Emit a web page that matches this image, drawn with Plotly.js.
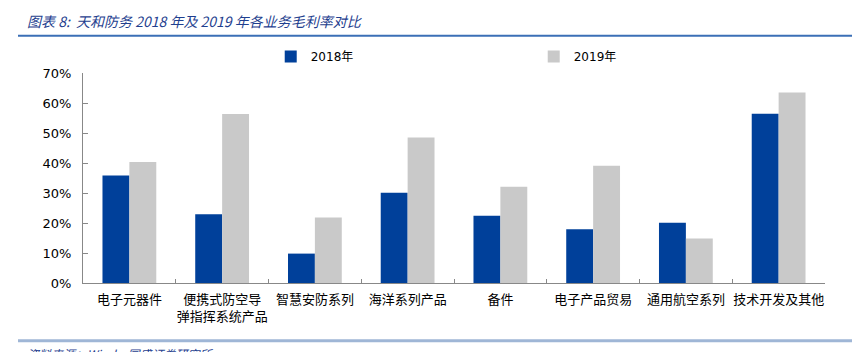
<!DOCTYPE html>
<html>
<head>
<meta charset="utf-8">
<script src="https://cdn.plot.ly/plotly-3.0.1.min.js"></script>
<style>html,body{margin:0;padding:0;background:#fff;}#chart{width:852px;height:352px;}</style>
</head>
<body>
<div id="chart"></div>
<script>
const categories = ["电子元器件", "便携式防空导<br>弹指挥系统产品", "智慧安防系列", "海洋系列产品", "备件", "电子产品贸易", "通用航空系列", "技术开发及其他"];
const series2018 = [0.358, 0.229, 0.098, 0.301, 0.224, 0.179, 0.201, 0.564];
const series2019 = [0.403, 0.563, 0.218, 0.485, 0.321, 0.391, 0.148, 0.635];
const seriesNames = ["2018年", "2019年"];
const titleText = "图表 8:  天和防务 2018 年及 2019 年各业务毛利率对比";
const sourceText = "资料来源：Wind，国盛证券研究所";

const cjk = '"Noto Sans CJK SC", sans-serif';
const traces = [
  {type: 'bar', name: seriesNames[0], x: categories, y: series2018, marker: {color: '#00409A'}},
  {type: 'bar', name: seriesNames[1], x: categories, y: series2019, marker: {color: '#C9C9C9'}}
];
const layout = {
  width: 852, height: 352,
  margin: {l: 83, r: 27, t: 73, b: 69},
  paper_bgcolor: '#fff', plot_bgcolor: '#fff',
  barmode: 'group', bargap: 0.42, bargroupgap: 0,
  showlegend: true,
  legend: {orientation: 'h', x: 0.253, xanchor: 'left', y: 1.078, yanchor: 'middle', bgcolor: 'rgba(0,0,0,0)',
           entrywidth: 218, itemwidth: 30, font: {family: 'DejaVu Sans, ' + cjk, size: 12, color: '#000'}},
  xaxis: {type: 'category', showline: true, linecolor: '#888', linewidth: 1, tickangle: 0,
          ticks: 'inside', tickson: 'boundaries', ticklen: 4, tickcolor: '#888', ticklabelstandoff: 4,
          tickfont: {family: cjk, size: 13, color: '#000'}, showgrid: false, fixedrange: true},
  yaxis: {range: [0, 0.7], dtick: 0.1, tickformat: '.0%', showline: true, linecolor: '#888', linewidth: 1,
          ticks: 'inside', ticklen: 5, tickcolor: '#888', showgrid: false, zeroline: false,
          ticklabelstandoff: 8,
          tickfont: {family: 'DejaVu Sans', size: 13, color: '#000'}, fixedrange: true},
  shapes: [
    {type: 'line', xref: 'paper', yref: 'paper', x0: -0.0876, x1: 1.04, y0: 1.1776, y1: 1.1776, line: {color: '#3b6fb6', width: 2}},
    {type: 'line', xref: 'paper', yref: 'paper', x0: -0.0876, x1: 1.04, y0: -0.2748, y1: -0.2748, line: {color: '#9fb6d6', width: 3}}
  ],
  annotations: [
    {text: titleText, xref: 'paper', yref: 'paper', x: -0.078, y: 1.25, xanchor: 'left', yanchor: 'middle', showarrow: false,
     font: {family: cjk, size: 14, color: '#1f3f8f', style: 'italic'}},
    {text: sourceText, xref: 'paper', yref: 'paper', x: -0.078, y: -0.285, xanchor: 'left', yanchor: 'top', showarrow: false,
     font: {family: cjk, size: 12, color: '#1f3f8f', style: 'italic'}}
  ]
};
Plotly.newPlot('chart', traces, layout, {displayModeBar: false, staticPlot: true});
</script>
</body>
</html>
